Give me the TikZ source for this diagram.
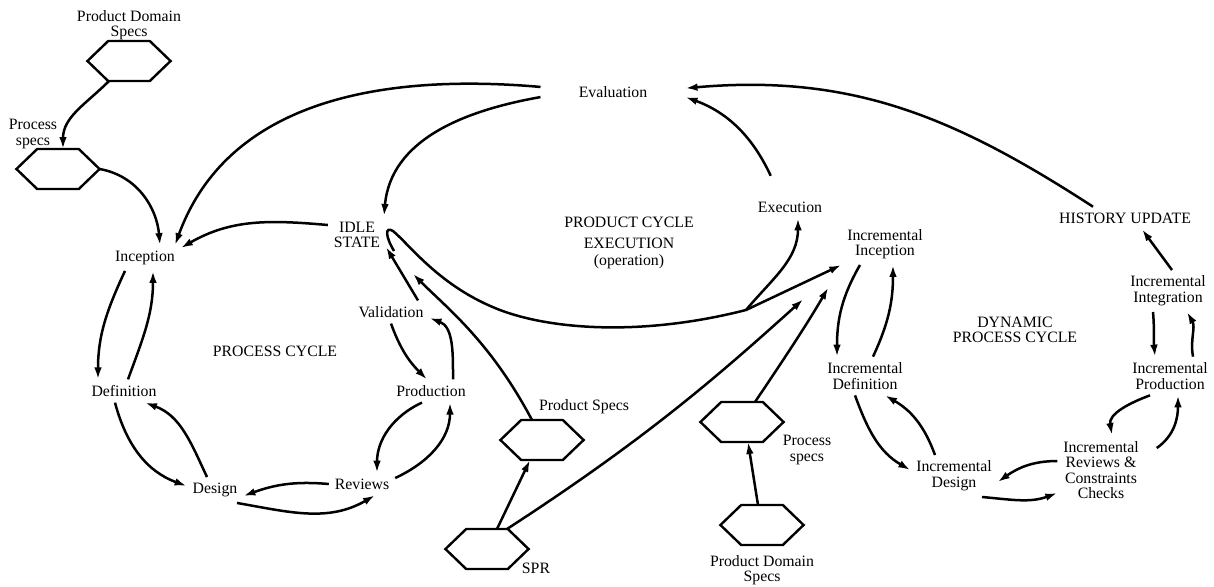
\documentclass[tikz,border=0pt]{standalone}
\usepackage{fontspec}
\setmainfont{Liberation Serif}
\usepackage{tikz}
\usetikzlibrary{arrows.meta,shapes.geometric}
\tikzset{
    stagenode/.style = {
        align=center,
        font=\fontsize{7.9}{7.8}\selectfont,
        inner sep=1pt,
        outer sep=2pt
    },
    hexnode/.style = {
        regular polygon,
        regular polygon sides=6,
        draw=black,
        line width=1.2pt,
        minimum size=23.1pt,
        inner sep=0pt,
        outer sep=0pt,
        xscale=1.8
    },
    flow/.style = {
        line width=1.25pt,
        -{Latex[length=6pt,width=3.8pt]}
    },
    plainflow/.style = {
        line width=1.25pt
    }
}

\begin{document}
\begin{tikzpicture}[x=0.5pt,y=-0.5pt]
\useasboundingbox (0,0) rectangle (1214,586);

\node [hexnode] (pds1) at (129,61) {};
\node [stagenode] (pds1lbl) at (129,25) {Product Domain\\Specs};
\node [hexnode] (ps1) at (58,169) {};
\node [stagenode] (ps1lbl) at (33,134) {Process\\specs};
\node [hexnode] (prs) at (542,440) {};
\node [stagenode] (prslbl) at (584,407) {Product Specs};
\node [hexnode] (spr) at (487,549) {};
\node [stagenode] (sprlbl) at (536,568) {SPR};
\node [hexnode] (ps2) at (742,422) {};
\node [stagenode] (ps2lbl) at (807,450) {Process\\specs};
\node [hexnode] (pds2) at (762,525) {};
\node [stagenode] (pds2lbl) at (762,570) {Product Domain\\Specs};

\node [stagenode] (incep) at (145,258) {Inception};
\node [stagenode] (defin) at (124,391) {Definition};
\node [stagenode] (design) at (215,490) {Design};
\node [stagenode] (reviews) at (362,484) {Reviews};
\node [stagenode] (prod) at (431,391) {Production};
\node [stagenode] (valid) at (391,312) {Validation};
\node [stagenode] (pcycle) at (275,351) {PROCESS CYCLE};
\node [stagenode] (idle) at (357,235) {IDLE\\STATE};
\node [stagenode, minimum width=68.5pt] (eval) at (613,92) {Evaluation};
\node [stagenode] (exec) at (790,207) {Execution};
\node [stagenode] (pcexec) at (629,243) {PRODUCT CYCLE\\[3pt]EXECUTION\\[0.7pt](operation)};
\node [stagenode] (history) at (1125,218) {HISTORY UPDATE};
\node [stagenode] (iinc) at (885,244) {Incremental\\Inception};
\node [stagenode] (idef) at (865,376) {Incremental\\Definition};
\node [stagenode] (ides) at (954,476) {Incremental\\Design};
\node [stagenode] (irev) at (1101,470) {Incremental\\Reviews \&\\Constraints\\Checks};
\node [stagenode] (iprod) at (1170,376) {Incremental\\Production};
\node [stagenode] (iint) at (1168,291) {Incremental\\Integration};
\node [stagenode] (dpcycle) at (1015,330) {DYNAMIC\\PROCESS CYCLE};
\coordinate (fork) at (746,310);

\draw [flow] ([xshift=-10pt]pds1.south) to[out=225,in=90] ([xshift=2.5pt]ps1.north);
\draw [flow] (ps1.east) to[out=-10,in=95] ([xshift=7.5pt]incep.north);
\draw [flow] (eval.176) to[out=175,in=70] ([xshift=15pt]incep.north);
\draw [flow] (eval.184) to[out=190,in=85] ([xshift=13.5pt]idle.north);
\draw [flow] ([yshift=5pt]idle.west) to[out=175,in=30] ([yshift=5pt]incep.east);

\draw [flow] ([xshift=-10pt]incep.south) to[out=245,in=90] ([xshift=-13pt]defin.north);
\draw [flow] ([xshift=2pt]defin.north) to[out=70,in=-90] ([xshift=4pt]incep.south);
\draw [flow] ([xshift=-4.5pt]defin.south) to[out=-75,in=160] ([yshift=2pt]design.west);
\draw [flow] ([xshift=-4pt]design.north) to[out=115,in=-20] ([xshift=10.5pt]defin.south);
\draw [flow] ([xshift=11pt]design.south) to[out=-10,in=210] ([xshift=6.5pt]reviews.south);
\draw [flow] (reviews.west) to[out=175,in=20] ([yshift=-3pt]design.east);
\draw [flow] ([yshift=3pt]reviews.east) to[out=25,in=-90] ([xshift=9.5pt]prod.south);
\draw [flow] ([xshift=-4.5pt]prod.south) to[out=205,in=90] ([xshift=7.5pt]reviews.north);
\draw [flow] ([xshift=11pt]prod.north) to[out=90,in=-20] ([yshift=-3pt]valid.east);
\draw [flow] (valid.south) to[out=-70,in=135] ([xshift=-2pt]prod.north);
\draw [flow] ([xshift=13.5pt]valid.north) -- ([yshift=-6pt]idle.east);

\draw [plainflow] ([shift={(4pt,-8pt)}]idle.east) .. controls (385,236) and (385,226) .. (393,231)
    .. controls (410,245) and (440,287) .. (500,310) .. controls (550,329) and (640,337) .. (fork);
\draw [flow] (fork) to[out=50,in=-90] ([xshift=4pt]exec.south);
\draw [flow] (fork) -- (iinc.south west);
\draw [flow, shorten <=11pt] ([xshift=-5pt]exec.north) to[out=115,in=-20] (eval.-4);
\draw [flow] ([xshift=-16pt]history.north) to[out=147,in=5] (eval.3);

\draw [flow] ([xshift=-2pt]pds2.north) -- ([xshift=3pt]ps2.south);
\draw [flow] ([xshift=5pt]spr.north) -- ([xshift=-6pt]prs.south);
\draw [flow, shorten >=19pt] ([xshift=-5pt]prs.north) to[out=118,in=-45] ([yshift=-6pt]idle.east);
\draw [flow, shorten >=25.6pt] ([xshift=10pt]spr.north) to[out=33,in=222] (iinc.south west);
\draw [flow, shorten >=13pt] ([xshift=6.5pt]ps2.north) to[out=56,in=240] (iinc.south west);

\draw [flow] ([xshift=-12.5pt]iinc.south) to[out=240,in=90] ([xshift=-14pt]idef.north);
\draw [flow] ([xshift=4pt]idef.north) to[out=65,in=-90] ([xshift=4pt]iinc.south);
\draw [flow] ([xshift=-5pt]idef.south) to[out=-70,in=150] ([yshift=3pt]ides.west);
\draw [flow] ([xshift=-9.5pt]ides.north) to[out=110,in=-30] ([xshift=10pt]idef.south);
\draw [flow] ([xshift=14pt]ides.south) to[out=-5,in=200] ([yshift=-11.5pt]irev.west);
\draw [flow] ([yshift=4.5pt]irev.west) to[out=180,in=35] ([yshift=-3pt]ides.east);
\draw [flow] ([shift={(6pt,11pt)}]irev.east) to[out=35,in=-90] ([xshift=4pt]iprod.south);
\draw [flow] ([xshift=-10pt]iprod.south) to[out=200,in=100] ([xshift=5.5pt]irev.north);
\draw [flow] ([xshift=11.5pt]iprod.north) to[out=100,in=-60] ([xshift=9.5pt]iint.south);
\draw [flow] ([xshift=-7.5pt]iint.south) to[out=-85,in=95] ([xshift=-7.5pt]iprod.north);
\draw [flow] ([xshift=2pt]iint.north) -- ([xshift=8.5pt]history.south);
\end{tikzpicture}
\end{document}
